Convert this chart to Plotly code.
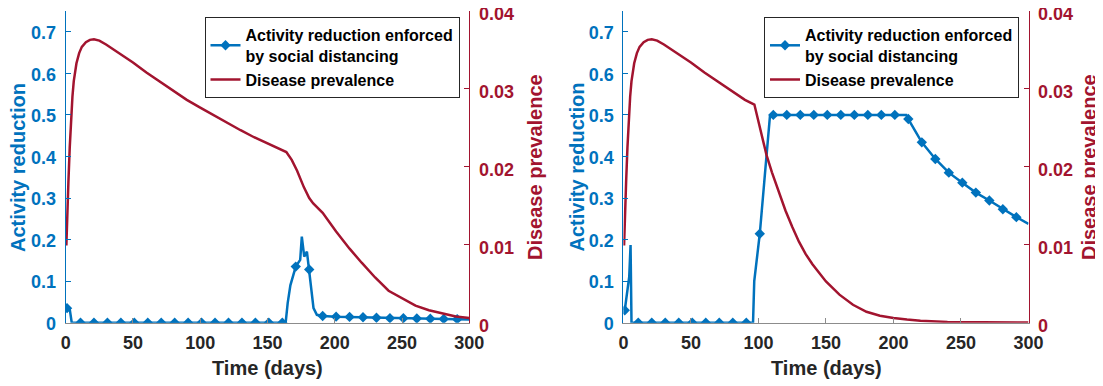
import plotly.graph_objects as go

# ---------------- data ----------------
MARKER_DAYS = list(range(1, 300, 10))
X_TICKS = [0, 50, 100, 150, 200, 250, 300]
Y_LEFT_TICKS = [0, 0.1, 0.2, 0.3, 0.4, 0.5, 0.6, 0.7]
Y_RIGHT_TICKS = [0, 0.01, 0.02, 0.03, 0.04]

# Left panel: activity reduction
t_act_left = [1, 3, 4.5, 11, 21, 31, 41, 51, 61, 71, 81, 91, 101, 111, 121, 131, 141, 151, 161,
              163.5, 165, 167, 171, 174.3, 175.5, 177.3, 179.3, 181, 184.2, 186.7, 191,
              201, 211, 221, 231, 241, 251, 261, 271, 281, 291, 300]
act_left = [0.035, 0.032, 0.0, 0, 0, 0, 0, 0, 0, 0, 0, 0, 0, 0, 0, 0, 0, 0, 0,
            0.0, 0.047, 0.09, 0.135, 0.151, 0.207, 0.159, 0.171, 0.128, 0.035, 0.019, 0.016,
            0.0145, 0.014, 0.013, 0.012, 0.011, 0.011, 0.010, 0.0095, 0.009, 0.0085, 0.008]

# Left panel: disease prevalence
t_prev_left = [0.5, 1, 2, 3, 4, 5, 6, 8, 10, 12, 15, 18, 21, 25, 30, 40, 50, 60, 70, 80, 90,
               100, 110, 120, 130, 140, 150, 160, 164, 168, 172, 177, 181, 184, 187, 191,
               201, 211, 220, 230, 240, 250, 260, 270, 280, 290, 300]
prev_left = [0.0099, 0.0135, 0.018, 0.0225, 0.0262, 0.029, 0.031, 0.0333, 0.0346, 0.0354,
             0.0360, 0.0363, 0.03638, 0.0362, 0.0357, 0.0346, 0.0334, 0.0321, 0.0309, 0.0297,
             0.0286, 0.0276, 0.0266, 0.0256, 0.0247, 0.0238, 0.0230, 0.0222, 0.0219, 0.0209,
             0.0195, 0.0174, 0.0160, 0.0153, 0.0148, 0.0141, 0.0117, 0.0095, 0.0077, 0.0058,
             0.0041, 0.0031, 0.0022, 0.0016, 0.0012, 0.0008, 0.0006]

# Right panel: activity reduction
t_act_right = [1, 4.3, 5.3, 6, 11, 21, 31, 41, 51, 61, 71, 81, 91, 96, 96.9, 101, 108.5, 111,
               121, 131, 141, 151, 161, 171, 181, 191, 201, 209.5, 211, 221, 231, 241, 251,
               261, 271, 281, 291, 300]
act_right = [0.03, 0.11, 0.187, 0.0, 0, 0, 0, 0, 0, 0, 0, 0, 0, 0.0, 0.10, 0.214, 0.496, 0.5,
             0.5, 0.5, 0.5, 0.5, 0.5, 0.5, 0.5, 0.5, 0.5, 0.5, 0.49, 0.434, 0.394, 0.361, 0.337,
             0.313, 0.294, 0.273, 0.254, 0.238]

# Right panel: disease prevalence
t_prev_right = [0.5, 1, 2, 3, 4, 5, 6, 8, 10, 12, 15, 18, 21, 25, 30, 40, 50, 60, 70, 80, 90,
                97, 100, 103, 106, 110, 115, 120, 125, 130, 135, 140, 150, 160, 170, 180, 190,
                200, 210, 220, 240, 260, 280, 300]
prev_right = [0.0099, 0.0135, 0.018, 0.0225, 0.0262, 0.029, 0.031, 0.0333, 0.0346, 0.0354,
              0.0360, 0.0363, 0.03638, 0.0362, 0.0357, 0.0346, 0.0334, 0.0321, 0.0309, 0.0297,
              0.0286, 0.0280, 0.0258, 0.0236, 0.0215, 0.0193, 0.0167, 0.0144, 0.0123, 0.0104,
              0.0088, 0.0075, 0.0053, 0.0036, 0.0023, 0.0014, 0.0009, 0.0006, 0.0004, 0.00025,
              0.0001, 0.00005, 0.00003, 0.00002]

LEGEND_ACT = "Activity reduction enforced<br>by social distancing"
LEGEND_PREV = "Disease prevalence"
X_TITLE = "Time (days)"
Y_LEFT_TITLE = "Activity reduction"
Y_RIGHT_TITLE = "Disease prevalence"

# ---------------- style ----------------
BLUE = "#0072BD"
RED = "#A2142F"
DARK = "#262626"
AXGRAY = "#8c8c8c"
FONT = "Liberation Sans, Arial, sans-serif"
OFF = 8                      # default page body margin
W, H = 1103 - OFF, 386 - OFF


def px_x(p):
    return (p - OFF) / W


def px_y(p):
    return 1 - (p - OFF) / H


Y_DOM = [px_y(322.7), px_y(11.0)]
X_DOM_L = [px_x(65.7), px_x(469.3)]
X_DOM_R = [px_x(623.4), px_x(1028.5)]

fig = go.Figure()


def add_panel(t_act, act, t_prev, prev, xa, ya, ya2, legend_name):
    fig.add_trace(go.Scatter(x=t_act, y=act, mode="lines", line=dict(color=BLUE, width=2.5),
                             xaxis=xa, yaxis=ya, showlegend=False, hoverinfo="skip"))
    mx = [t for t in t_act if t in MARKER_DAYS]
    my = [v for t, v in zip(t_act, act) if t in MARKER_DAYS]
    fig.add_trace(go.Scatter(x=mx, y=my, mode="markers",
                             marker=dict(symbol="diamond", size=8, color=BLUE),
                             xaxis=xa, yaxis=ya, showlegend=False, hoverinfo="skip"))
    # legend entry for the activity series (line + marker)
    fig.add_trace(go.Scatter(x=[None], y=[None], mode="lines+markers", name=LEGEND_ACT,
                             line=dict(color=BLUE, width=2.5),
                             marker=dict(symbol="diamond", size=8, color=BLUE),
                             xaxis=xa, yaxis=ya, legend=legend_name))
    fig.add_trace(go.Scatter(x=t_prev, y=prev, mode="lines", name=LEGEND_PREV,
                             line=dict(color=RED, width=2.5),
                             xaxis=xa, yaxis=ya2, legend=legend_name))


add_panel(t_act_left, act_left, t_prev_left, prev_left, "x", "y", "y2", "legend")
add_panel(t_act_right, act_right, t_prev_right, prev_right, "x2", "y3", "y4", "legend2")

tickfont_x = dict(family=FONT, size=18, color=DARK, weight="bold")
tickfont_l = dict(family=FONT, size=18, color=BLUE, weight="bold")
tickfont_r = dict(family=FONT, size=18, color=RED, weight="bold")


def xaxis_cfg(dom, anchor):
    return dict(domain=dom, anchor=anchor, range=[0, 300], tickvals=X_TICKS,
                ticks="inside", ticklen=5, tickcolor=AXGRAY, showline=True, linecolor=AXGRAY,
                linewidth=1, showgrid=False, zeroline=False, tickfont=tickfont_x,
                ticklabelstandoff=4, automargin=False, ticklabeloverflow="allow")


def yleft_cfg(anchor):
    return dict(domain=Y_DOM, anchor=anchor, range=[0, 0.75], tickvals=Y_LEFT_TICKS,
                ticks="inside", ticklen=5, tickcolor=BLUE, showline=True, linecolor=BLUE,
                linewidth=1, showgrid=False, zeroline=False, tickfont=tickfont_l,
                ticklabelstandoff=5, ticklabelshift=1, automargin=False,
                ticklabeloverflow="allow")


def yright_cfg(anchor, over):
    return dict(domain=Y_DOM, anchor=anchor, overlaying=over, side="right", range=[0, 0.04],
                tickvals=Y_RIGHT_TICKS, ticks="inside", ticklen=5, tickcolor=RED,
                showline=True, linecolor=RED, linewidth=1, showgrid=False, zeroline=False,
                tickfont=tickfont_r, ticklabelstandoff=5, ticklabelshift=3,
                automargin=False, ticklabeloverflow="allow")


legend_common = dict(xanchor="right", yanchor="top", y=px_y(17.0), bgcolor="white",
                     bordercolor=DARK, borderwidth=1, traceorder="normal",
                     font=dict(family=FONT, size=16, color="black", weight="bold"))

fig.update_layout(
    width=W, height=H, margin=dict(l=0, r=0, t=0, b=0, autoexpand=False),
    paper_bgcolor="white", plot_bgcolor="white",
    xaxis=xaxis_cfg(X_DOM_L, "y"),
    yaxis=yleft_cfg("x"),
    yaxis2=yright_cfg("x", "y"),
    xaxis2=xaxis_cfg(X_DOM_R, "y3"),
    yaxis3=yleft_cfg("x2"),
    yaxis4=yright_cfg("x2", "y3"),
    legend=dict(x=px_x(459.5), **legend_common),
    legend2=dict(x=px_x(1019), **legend_common),
)

title_font = dict(family=FONT, size=20, weight="bold")
annots = [
    (X_TITLE, 267.5, 368, 0, DARK),
    (X_TITLE, 826, 368, 0, DARK),
    (Y_LEFT_TITLE, 17.5, 167.5, -90, BLUE),
    (Y_LEFT_TITLE, 576, 167.5, -90, BLUE),
    (Y_RIGHT_TITLE, 534.5, 167.5, -90, RED),
    (Y_RIGHT_TITLE, 1088.5, 167.5, -90, RED),
]
for text, ax, ay, ang, col in annots:
    fig.add_annotation(text=text, x=px_x(ax), y=px_y(ay), xref="paper", yref="paper",
                       xanchor="center", yanchor="middle", showarrow=False, textangle=ang,
                       font=dict(color=col, **title_font))

fig.write_html("out.html")
